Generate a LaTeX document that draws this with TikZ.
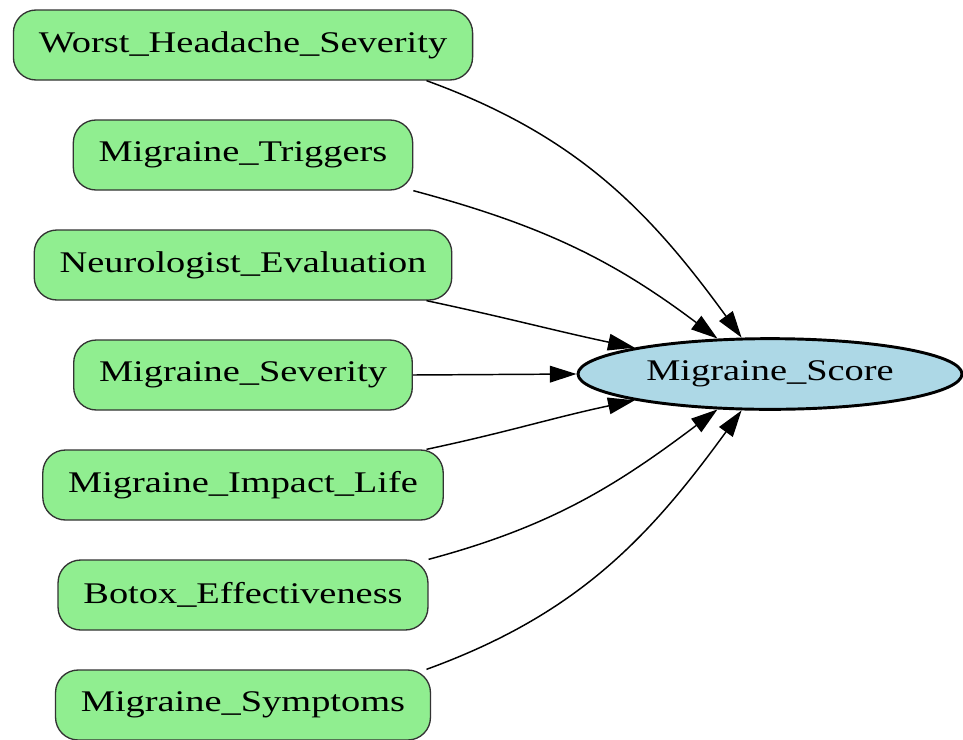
\documentclass[tikz,border=0pt]{standalone}
\usepackage{fontspec}
\setmainfont{Liberation Serif}
\usetikzlibrary{shapes.geometric,arrows.meta}
\definecolor{boxgreen}{HTML}{90EE90}
\definecolor{ovalblue}{HTML}{ADD8E6}
\def\wide#1{\scalebox{1.28}[1]{#1}}

\begin{document}
\begin{tikzpicture}[x=0.75pt,y=0.75pt,
    factor/.style={draw=black!80,fill=boxgreen,rounded corners=17pt,line width=1pt,
        minimum height=52.5pt,inner xsep=19pt,font=\fontsize{22.5}{27}\selectfont},
    target/.style={ellipse,draw=black,fill=ovalblue,line width=2.2pt,inner sep=0pt,
        minimum width=288pt,minimum height=53pt,font=\fontsize{22.5}{27}\selectfont},
    link/.style={-{Triangle[length=20pt,width=12.5pt]},line width=1.1pt}]
        \useasboundingbox (0,0) rectangle (963,-739);
        % causes on the left
        \node[factor] (whs) at (243,-45) {\wide{Worst\_Headache\_Severity}};
        \node[factor] (trig) at (243,-155) {\wide{Migraine\_Triggers}};
        \node[factor] (neuro) at (243,-265) {\wide{Neurologist\_Evaluation}};
        \node[factor] (sev) at (243,-375) {\wide{Migraine\_Severity}};
        \node[factor] (impact) at (243,-485) {\wide{Migraine\_Impact\_Life}};
        \node[factor] (botox) at (243,-595) {\wide{Botox\_Effectiveness}};
        \node[factor] (sympt) at (243,-705) {\wide{Migraine\_Symptoms}};
        % outcome
        \node[target] (score) at (770,-374) {\wide{Migraine\_Score}};
        % edges
        \draw[link] (whs.-11) to[out=-20,in=126] (score.128);
        \draw[link] (trig.south east) to[out=-15,in=143] (score.146);
        \draw[link] (neuro.-11) to[out=-12,in=168] (score.169);
        \draw[link] (sev.east) -- (score.west);
        \draw[link] (impact.11) to[out=12,in=-168] (score.191);
        \draw[link] (botox.north east) to[out=15,in=-143] (score.214);
        \draw[link] (sympt.11) to[out=20,in=-126] (score.232);
\end{tikzpicture}
\end{document}
